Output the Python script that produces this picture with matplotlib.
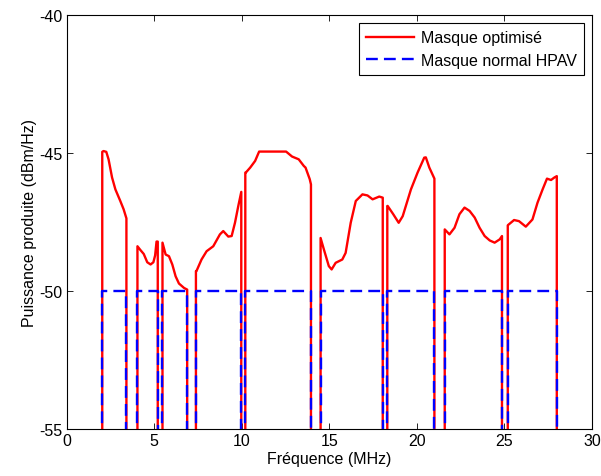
import matplotlib

matplotlib.use("Agg")
import matplotlib.pyplot as plt

# Active HPAV bands (MHz) - outside these the mask is notched
band_start = [2.03, 4.04, 5.47, 7.38, 10.2, 14.5, 18.31, 21.59, 25.19]
band_end = [3.41, 5.2, 6.88, 9.97, 13.95, 18.05, 21.0, 24.86, 27.99]
hpav_level = -50.0
notch_floor = -80.0  # below the axis, drawn as vertical drops

# optimised mask, one list per band
opt_freq = [
    [2.03, 2.1, 2.26, 2.39, 2.59, 2.78, 3.06, 3.25, 3.41],
    [4.04, 4.2, 4.4, 4.6, 4.79, 4.95, 5.05, 5.13, 5.2],
    [5.47, 5.65, 5.84, 6.03, 6.22, 6.41, 6.7, 6.88],
    [7.38, 7.41, 7.7, 7.99, 8.37, 8.75, 8.94, 9.23, 9.42, 9.61, 9.8, 9.97],
    [10.2, 10.23, 10.48, 10.76, 10.99, 12.53, 12.87, 13.25, 13.54, 13.64, 13.88, 13.95],
    [14.5, 14.69, 14.97, 15.13, 15.36, 15.74, 15.93, 16.22, 16.51, 16.89, 17.18, 17.47, 17.85, 18.05],
    [18.31, 18.33, 18.65, 18.96, 19.19, 19.35, 19.66, 20.04, 20.42, 20.51, 20.71, 21.0],
    [21.59, 21.86, 22.15, 22.43, 22.72, 23.01, 23.3, 23.58, 23.87, 24.16, 24.44, 24.73, 24.86],
    [25.19, 25.55, 25.83, 26.22, 26.6, 26.89, 27.18, 27.43, 27.66, 27.85, 27.99],
]
opt_db = [
    [-44.95, -44.92, -44.95, -45.22, -45.88, -46.31, -46.73, -47.03, -47.36],
    [-48.37, -48.5, -48.65, -48.95, -49.03, -48.95, -48.7, -48.2, -48.2],
    [-48.24, -48.67, -48.73, -49.03, -49.46, -49.72, -49.88, -49.94],
    [-49.27, -49.27, -48.85, -48.55, -48.37, -47.94, -47.82, -48.02, -48.0, -47.52, -46.91, -46.4],
    [-45.7, -45.7, -45.52, -45.28, -44.94, -44.94, -45.12, -45.22, -45.46, -45.52, -45.94, -46.13],
    [-48.07, -48.49, -49.09, -49.21, -48.97, -48.85, -48.61, -47.52, -46.73, -46.49, -46.53, -46.67, -46.57, -46.61],
    [-46.91, -46.91, -47.21, -47.52, -47.28, -46.95, -46.31, -45.7, -45.16, -45.15, -45.52, -45.92],
    [-47.76, -47.94, -47.7, -47.21, -46.97, -47.09, -47.33, -47.7, -48.0, -48.16, -48.24, -48.12, -48.0],
    [-47.61, -47.42, -47.46, -47.66, -47.4, -46.79, -46.31, -45.92, -45.97, -45.88, -45.83],
]

x_ticks = [0, 5, 10, 15, 20, 25, 30]
y_ticks = [-55, -50, -45, -40]

plt.rcParams["font.family"] = ["Liberation Sans", "DejaVu Sans"]
plt.rcParams["font.size"] = 11.5
plt.rcParams["axes.unicode_minus"] = False

# build step-like traces with drops into the notches
red_x, red_y, blue_x, blue_y = [], [], [], []
for f, db, s, e in zip(opt_freq, opt_db, band_start, band_end):
    red_x += [f[0]] + f + [f[-1]]
    red_y += [notch_floor] + db + [notch_floor]
    blue_x += [s, s, e, e]
    blue_y += [notch_floor, hpav_level, hpav_level, notch_floor]

fig = plt.figure(figsize=(6.01, 4.77), dpi=100)
ax = fig.add_axes([0.111, 0.098, 0.874, 0.868])
ax.plot(red_x, red_y, color="red", lw=1.7, label="Masque optimisé")
ax.plot(blue_x, blue_y, color="blue", lw=1.7, ls=(0, (5, 2.6)),
        label="Masque normal HPAV")

ax.set_xlim(0, 30)
ax.set_ylim(-55, -40)
ax.set_xticks(x_ticks)
ax.set_yticks(y_ticks)
ax.tick_params(direction="in", top=True, right=True, length=4, width=0.6,
               pad=3)
for sp in ax.spines.values():
    sp.set_linewidth(0.8)
ax.set_xlabel("Fréquence (MHz)", labelpad=2)
ax.set_ylabel("Puissance produite (dBm/Hz)", labelpad=2)
leg = ax.legend(loc="upper right", fancybox=False, framealpha=1,
                edgecolor="black", borderaxespad=0.5, handlelength=3.0,
                handletextpad=0.45, borderpad=0.45, labelspacing=0.45,
                fontsize=11.5)
leg.get_frame().set_linewidth(0.8)

fig.savefig("out.png", dpi=100)
plt.close(fig)
